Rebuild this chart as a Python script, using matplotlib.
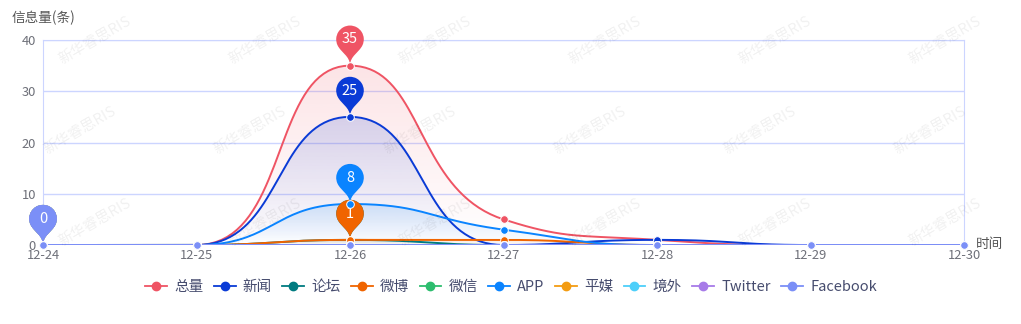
import numpy as np
import matplotlib
matplotlib.use("Agg")
import matplotlib.pyplot as plt
from matplotlib.path import Path
from matplotlib.patches import PathPatch, Polygon
from matplotlib.lines import Line2D
import matplotlib.transforms as mtransforms

plt.rcParams['font.family'] = ['Noto Sans CJK SC', 'DejaVu Sans']

# data
dates = ['12-24', '12-25', '12-26', '12-27', '12-28', '12-29', '12-30']
names = ['总量', '新闻', '论坛', '微博', '微信', 'APP', '平媒', '境外', 'Twitter', 'Facebook']
total = [0, 0, 35, 5, 1, 0, 0]
news = [0, 0, 25, 0, 1, 0, 0]
forum = [0, 0, 1, 0, 0, 0, 0]
weibo = [0, 0, 1, 1, 0, 0, 0]
wechat = [0, 0, 0, 0, 0, 0, 0]
app = [0, 0, 8, 3, 0, 0, 0]
press = [0, 0, 0, 0, 0, 0, 0]
overseas = [0, 0, 0, 0, 0, 0, 0]
twitter = [0, 0, 0, 0, 0, 0, 0]
facebook = [0, 0, 0, 0, 0, 0, 0]
series = [total, news, forum, weibo, wechat, app, press, overseas, twitter, facebook]
colors = ['#ef5464', '#0a3bd6', '#007b80', '#f06400', '#2dbd6e',
          '#0a84ff', '#f39c12', '#4dcffa', '#a77be8', '#7b8ff7']

W, H = 1021, 324
fig = plt.figure(figsize=(W / 100, H / 100), dpi=100)
ax = fig.add_axes([43 / W, (H - 245) / H, (964 - 43) / W, (245 - 40) / H])
ax.set_xlim(0, len(dates) - 1)
ax.set_ylim(0, 40)

grid_c = '#ccd5ff'
ax.set_yticks([0, 10, 20, 30, 40])
ax.set_xticks(range(len(dates)))
ax.set_xticklabels(dates)
ax.grid(axis='y', color=grid_c, lw=1)
for s in ['left', 'right', 'top']:
    ax.spines[s].set_color(grid_c)
ax.spines['bottom'].set_visible(False)
ax.tick_params(length=0, labelsize=9.3, labelcolor='#6e7079')
ax.tick_params(axis='y', pad=5)
ax.tick_params(axis='x', pad=3)
ax.set_axisbelow(True)

fig.text(12 / W, 1 - 18 / H, '信息量(条)', fontsize=9.8, color='#555555', va='center')
fig.text(976 / W, 1 - 244 / H, '时间', fontsize=9.8, color='#555555', va='center')


def smooth_curve(xd, yd, smooth=0.5, steps=40):
    # monotone-clamped bezier smoothing done in pixel space
    pts = ax.transData.transform(np.column_stack([xd, yd]))
    px, py = pts[:, 0], pts[:, 1]
    n = len(px)
    out = [(px[0], py[0])]
    c0 = (px[0], py[0])
    t = np.linspace(0, 1, steps)[1:]
    for i in range(1, n):
        x, y = px[i], py[i]
        x0, y0 = px[i - 1], py[i - 1]
        if i == n - 1:
            c1 = (x, y)
            nc = None
        else:
            x2, y2 = px[i + 1], py[i + 1]
            vx, vy = x2 - x0, y2 - y0
            lp = np.hypot(x - x0, y - y0)
            ln = np.hypot(x2 - x, y2 - y)
            r = ln / (ln + lp)
            ncx = x + vx * smooth * r
            ncy = y + vy * smooth * r
            ncx = min(max(ncx, min(x2, x)), max(x2, x))
            ncy = min(max(ncy, min(y2, y)), max(y2, y))
            vx, vy = ncx - x, ncy - y
            c1x = x - vx * lp / ln
            c1y = y - vy * lp / ln
            c1x = min(max(c1x, min(x0, x)), max(x0, x))
            c1y = min(max(c1y, min(y0, y)), max(y0, y))
            vx, vy = x - c1x, y - c1y
            c1 = (c1x, c1y)
            nc = (x + vx * ln / lp, y + vy * ln / lp)
        bx = ((1 - t) ** 3 * x0 + 3 * (1 - t) ** 2 * t * c0[0]
              + 3 * (1 - t) * t ** 2 * c1[0] + t ** 3 * x)
        by = ((1 - t) ** 3 * y0 + 3 * (1 - t) ** 2 * t * c0[1]
              + 3 * (1 - t) * t ** 2 * c1[1] + t ** 3 * y)
        out.extend(zip(bx, by))
        c0 = nc
    out = ax.transData.inverted().transform(np.array(out))
    return out[:, 0], out[:, 1]


def pin_path(S=44):
    w = S * 0.6
    r = w / 2
    dy = r * r / (S - r)
    cy = S - r - dy
    a = np.arcsin(dy / r)
    dx = np.cos(a) * r
    tx, ty = np.sin(a), np.cos(a)
    cl, cl2 = r * 0.6, r * 0.7
    arc = Path.arc(np.degrees(-a), 180 + np.degrees(a))
    verts = list(arc.vertices * r + [0, cy])
    codes = list(arc.codes)
    verts += [(-dx + tx * cl, cy - dy - ty * cl), (0, cl2), (0, 0),
              (0, cl2), (dx - tx * cl, cy - dy - ty * cl), (dx, cy - dy),
              (dx, cy - dy)]
    codes += [Path.CURVE4] * 6 + [Path.CLOSEPOLY]
    return Path(verts, codes), cy


xs = np.arange(len(dates))
for i, (vals, c) in enumerate(zip(series, colors)):
    cx, cyv = smooth_curve(xs, vals)
    top = max(vals)
    if top > 0:
        poly = Polygon(np.column_stack([np.r_[cx, cx[-1], cx[0]],
                                        np.r_[cyv, 0, 0]]),
                       closed=True, fc='none', ec='none')
        ax.add_patch(poly)
        rgb = matplotlib.colors.to_rgb(c)
        grad = np.zeros((256, 1, 4))
        grad[..., :3] = rgb
        grad[:, 0, 3] = np.linspace(0.16, 0.0, 256)
        im = ax.imshow(grad, extent=[0, len(dates) - 1, 0, top], origin='upper',
                       aspect='auto', zorder=2 + i * 0.01, interpolation='bilinear')
        im.set_clip_path(poly)
    ax.plot(cx, cyv, color=c, lw=1.4, zorder=3 + i * 0.01, solid_capstyle='round')
    ax.plot(xs, vals, 'o', color=c, ms=5.5, mec='white', mew=0.7, zorder=6 + i * 0.01,
            clip_on=False)

ax.set_xlim(0, len(dates) - 1)
ax.set_ylim(0, 40)

# max value pins
pin, pin_cy = pin_path(46)
for i, (vals, c) in enumerate(zip(series, colors)):
    k = int(np.argmax(vals))
    tr = mtransforms.Affine2D() + mtransforms.ScaledTranslation(k, vals[k], ax.transData)
    ax.add_patch(PathPatch(pin, fc=c, ec='none', transform=tr, zorder=5 + i * 0.01,
                           clip_on=False))
    ax.annotate(str(vals[k]), (k, vals[k]), xytext=(0, pin_cy * 0.72),
                textcoords='offset points', ha='center', va='center',
                color='white', fontsize=10.5, zorder=5.005 + i * 0.01,
                annotation_clip=False)

handles = [Line2D([], [], color=c, lw=1.3, marker='o', ms=6, label=n)
           for n, c in zip(names, colors)]
fig.legend(handles=handles, loc='center', bbox_to_anchor=(511 / W, 1 - 287 / H),
           ncol=len(names), frameon=False, fontsize=10.5, handlelength=1.5,
           handletextpad=0.5, columnspacing=0.7, labelcolor='#464c6e',
           borderaxespad=0, borderpad=0)

# background watermark
for row, yw in enumerate([40, 130, 222]):
    off = 0 if row % 2 == 0 else -15
    for xw in range(95 + off, W - 40, 170):
        fig.text(xw / W, 1 - yw / H, '新华睿思RIS', fontsize=10.5, color='#000000',
                 alpha=0.06, rotation=30, ha='center', va='center', zorder=20)

fig.savefig('out.png', dpi=100)
